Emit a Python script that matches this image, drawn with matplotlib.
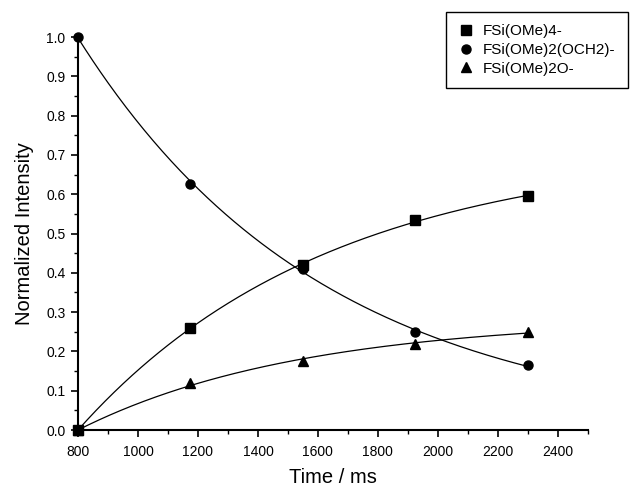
import numpy as np
import matplotlib.pyplot as plt
from matplotlib.ticker import MultipleLocator

plt.rcParams['font.family'] = ['Liberation Sans', 'DejaVu Sans']

# Data
time_ms = [800, 1175, 1550, 1925, 2300]
tetra = [0.0, 0.26, 0.42, 0.535, 0.595]       # FSi(OMe)4-
och2 = [1.0, 0.625, 0.41, 0.25, 0.165]        # FSi(OMe)2(OCH2)-
oxide = [0.0, 0.12, 0.175, 0.22, 0.25]        # FSi(OMe)2O-
labels = ['FSi(OMe)4-', 'FSi(OMe)2(OCH2)-', 'FSi(OMe)2O-']


def fit_exp(t, y, rising):
    # single exponential fit: grid search on rate, least squares on amplitude
    t = np.asarray(t, float) - t[0]
    y = np.asarray(y, float)
    best = None
    for k in np.linspace(1e-5, 5e-3, 2000):
        b = 1 - np.exp(-k * t) if rising else np.exp(-k * t)
        a = (b @ y) / (b @ b)
        err = np.sum((a * b - y) ** 2)
        if best is None or err < best[0]:
            best = (err, a, k)
    return best[1], best[2]


fig = plt.figure(figsize=(6.31, 4.87), dpi=100)
ax = fig.add_axes([0.1236, 0.117, 0.808, 0.807])

tt = np.linspace(time_ms[0], time_ms[-1], 300)
series = [(tetra, 's', True), (och2, 'o', False), (oxide, '^', True)]
for (vals, mk, rising), lab in zip(series, labels):
    a, k = fit_exp(time_ms, vals, rising)
    dt = tt - time_ms[0]
    curve = a * (1 - np.exp(-k * dt)) if rising else a * np.exp(-k * dt)
    ax.plot(tt, curve, color='black', lw=0.9)
    ax.plot(time_ms, vals, mk, color='black', ms=6.5, clip_on=False,
            label=lab, zorder=5)

ax.set_xlim(800, 2500)
ax.set_ylim(0, 1.0)
ax.xaxis.set_major_locator(MultipleLocator(200))
ax.xaxis.set_minor_locator(MultipleLocator(100))
ax.yaxis.set_major_locator(MultipleLocator(0.1))
ax.yaxis.set_minor_locator(MultipleLocator(0.05))
ax.yaxis.set_major_formatter(plt.FormatStrFormatter('%.1f'))

for s in ['top', 'right']:
    ax.spines[s].set_visible(False)
for s in ['left', 'bottom']:
    ax.spines[s].set_linewidth(1.5)
ax.tick_params(which='major', direction='out', length=5, width=1.2,
               labelsize=10, pad=4)
ax.tick_params(axis='x', which='major', pad=6)
ax.tick_params(which='minor', direction='out', length=3, width=1.0)

ax.set_xlabel('Time / ms', fontsize=14.5, labelpad=6)
ax.set_ylabel('Normalized Intensity', fontsize=14.5, labelpad=9)

leg = fig.legend(loc='upper right', bbox_to_anchor=(0.995, 0.975),
                 fontsize=11, fancybox=False, edgecolor='black',
                 framealpha=1, handlelength=1.0, handletextpad=0.65,
                 borderpad=0.8, labelspacing=0.3, borderaxespad=0)
leg.get_frame().set_linewidth(1.0)

fig.savefig('out.png', dpi=100)
